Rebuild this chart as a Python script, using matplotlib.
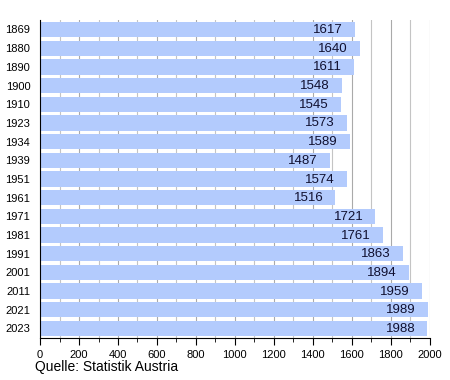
import matplotlib
matplotlib.use("Agg")
import matplotlib.pyplot as plt
from matplotlib.ticker import MultipleLocator

plt.rcParams['font.family'] = ['Liberation Sans', 'DejaVu Sans']

years = ['1869', '1880', '1890', '1900', '1910', '1923', '1934', '1939', '1951',
         '1961', '1971', '1981', '1991', '2001', '2011', '2021', '2023']
population = [1617, 1640, 1611, 1548, 1545, 1573, 1589, 1487, 1574,
              1516, 1721, 1761, 1863, 1894, 1959, 1989, 1988]

fig = plt.figure(figsize=(4.5, 3.8), dpi=100)
ax = fig.add_axes([0.089, 0.111, 0.866, 0.836])

pos = list(range(len(years)))
ax.barh(pos, population, height=0.82, color='#b3cbfd', zorder=2)
for p, v in zip(pos, population):
    ax.text(v - 62, p + 0.03, str(v), ha='right', va='center', fontsize=9.5,
            color='#101030', zorder=3)

ax.set_yticks(pos)
ax.set_yticklabels(years, fontsize=8)
ax.set_ylim(len(years) - 0.5, -0.5)
ax.tick_params(axis='y', length=0, pad=7)

ax.set_xlim(0, 2000)
ax.xaxis.set_major_locator(MultipleLocator(200))
ax.xaxis.set_minor_locator(MultipleLocator(100))
ax.tick_params(axis='x', which='major', length=5, labelsize=8, direction='out')
ax.tick_params(axis='x', which='minor', length=3, direction='out')
ax.grid(axis='x', which='major', color='#aaaaaa', linewidth=0.8, zorder=1)
ax.grid(axis='x', which='minor', color='#c4c4c4', linewidth=0.8, zorder=1)
ax.set_axisbelow(True)

for s in ['top', 'right']:
    ax.spines[s].set_visible(False)

fig.text(0.078, 0.015, 'Quelle: Statistik Austria', fontsize=10, ha='left', va='bottom')

fig.savefig('out.png', dpi=100)
